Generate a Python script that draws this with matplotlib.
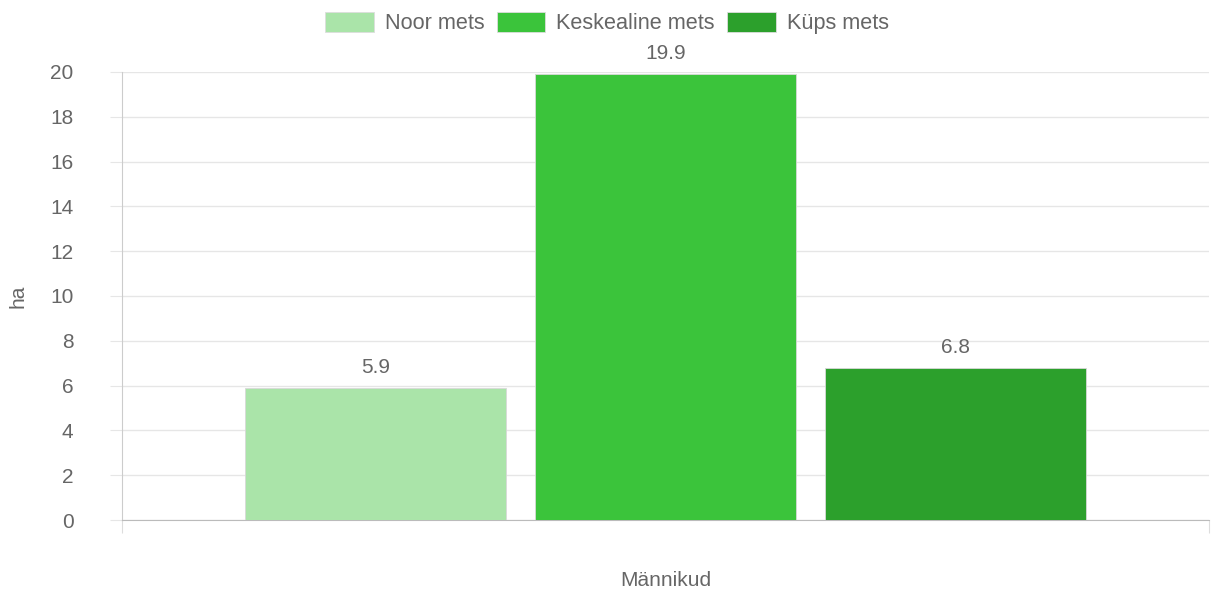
import matplotlib
matplotlib.use("Agg")
import matplotlib.pyplot as plt
from matplotlib.patches import Patch

plt.rcParams['font.family'] = ['Liberation Sans', 'DejaVu Sans']

category = "Männikud"
series_names = ["Noor mets", "Keskealine mets", "Küps mets"]
values = [5.9, 19.9, 6.8]
colors = ["#aae4a9", "#3bc43b", "#2ca02c"]
y_ticks = [0, 2, 4, 6, 8, 10, 12, 14, 16, 18, 20]

FS = 15

fig = plt.figure(figsize=(12.11, 5.96), dpi=100)
ax = fig.add_axes([122/1211, 1-520/596, (1209-122)/1211, (520-72)/596])

step = 290/1087
width = 261/1087
for i, (name, v, c) in enumerate(zip(series_names, values, colors)):
    x = (i - 1) * step
    ax.bar(x, v, width=width, color=c, edgecolor="#d8d8d8", linewidth=0.6, zorder=3)
    ax.annotate(f"{v}", (x, v), xytext=(0, 8), textcoords="offset points",
                ha="center", va="bottom", fontsize=FS, color="#666666")

ax.set_xlim(-0.5, 0.5)
ax.set_ylim(0, 20)
ax.set_yticks(y_ticks)
ax.set_xticks([-0.5, 0.5])
ax.set_xticklabels(["", ""])
ax.grid(axis="y", color="#e6e6e6", linewidth=1, zorder=0)
ax.tick_params(axis="y", length=9, color="#e6e6e6", labelsize=FS, labelcolor="#666666", pad=26)
ax.tick_params(axis="x", length=9, color="#dddddd")
for s in ["top", "right"]:
    ax.spines[s].set_visible(False)
ax.spines["left"].set_color("#cccccc")
ax.spines["bottom"].set_color("#bbbbbb")
ax.spines["left"].set_bounds(0, 20)

fig.text(666/1211, 1-580/596, category, ha="center", va="center", fontsize=FS, color="#666666")
fig.text(18/1211, 1-296/596, "ha", ha="center", va="center", rotation=90, fontsize=FS, color="#666666")

handles = [Patch(facecolor=c, edgecolor="#dddddd", linewidth=0.6, label=n) for n, c in zip(series_names, colors)]
fig.legend(handles=handles, loc="center", bbox_to_anchor=(607/1211, 1-23/596), ncol=3,
           frameon=False, fontsize=15.6, labelcolor="#666666", handlelength=2.25, handleheight=1.02,
           handletextpad=0.51, columnspacing=0.56)

fig.savefig("out.png", dpi=100)
